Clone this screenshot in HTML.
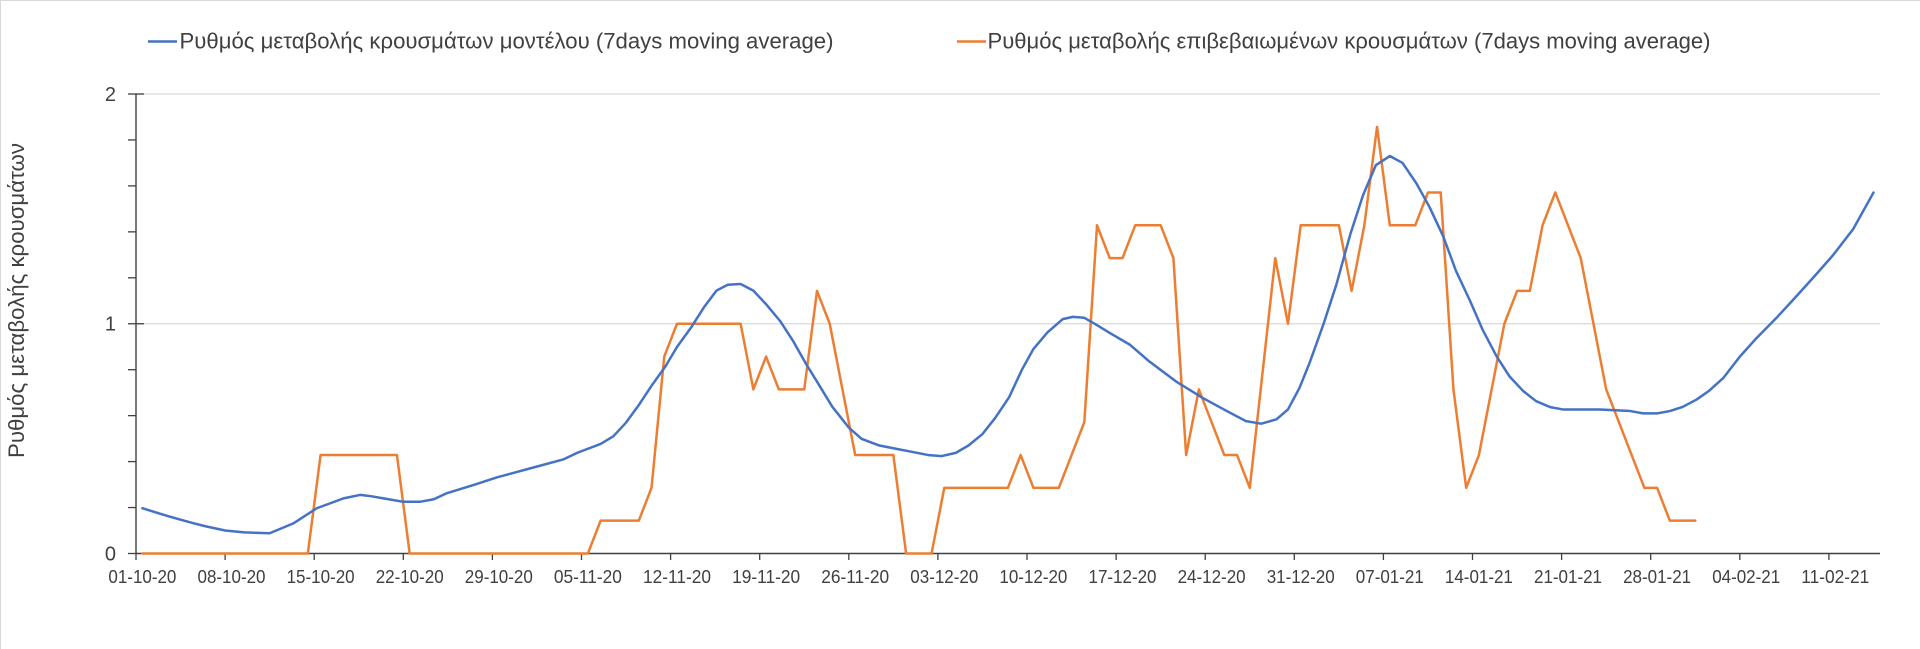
<!DOCTYPE html>
<html>
<head>
<meta charset="utf-8">
<style>
  html, body { margin: 0; padding: 0; background: #ffffff; }
  body { width: 1920px; height: 649px; overflow: hidden; }
  svg { display: block; }
  text { font-family: "Liberation Sans", "DejaVu Sans", sans-serif; fill: #404040; }
</style>
</head>
<body>
<svg width="1920" height="649" viewBox="0 0 1920 649" xmlns="http://www.w3.org/2000/svg">
  <rect x="0" y="0" width="1920" height="649" fill="#ffffff"/>
  <!-- faint chart border top/left -->
  <line x1="0" y1="0.5" x2="1920" y2="0.5" stroke="#d9d9d9" stroke-width="1"/>
  <line x1="0.5" y1="0" x2="0.5" y2="649" stroke="#d9d9d9" stroke-width="1"/>

  <!-- Legend -->
  <line x1="148" y1="41.5" x2="177" y2="41.5" stroke="#4472C4" stroke-width="2.5"/>
  <text x="179.5" y="48.5" font-size="22.5" textLength="654" lengthAdjust="spacingAndGlyphs">Ρυθμός μεταβολής κρουσμάτων μοντέλου (7days moving average)</text>
  <line x1="957" y1="41.5" x2="986" y2="41.5" stroke="#ED7D31" stroke-width="2.5"/>
  <text x="987.5" y="48.5" font-size="22.5" textLength="723" lengthAdjust="spacingAndGlyphs">Ρυθμός μεταβολής επιβεβαιωμένων κρουσμάτων (7days moving average)</text>

  <!-- Y axis title -->
  <text transform="translate(24,300.5) rotate(-90)" x="0" y="0" font-size="22" text-anchor="middle" textLength="315" lengthAdjust="spacingAndGlyphs">Ρυθμός μεταβολής κρουσμάτων</text>

  <!-- Gridlines -->
  <line x1="136" y1="94" x2="1880" y2="94" stroke="#d9d9d9" stroke-width="1.2"/>
  <line x1="136" y1="323.75" x2="1880" y2="323.75" stroke="#d9d9d9" stroke-width="1.2"/>

  <!-- Y axis -->
  <line x1="136" y1="94" x2="136" y2="554" stroke="#404040" stroke-width="1.4"/>
  <g stroke="#404040" stroke-width="1.3">
    <line x1="128" y1="94" x2="144" y2="94"/>
    <line x1="128" y1="323.75" x2="144" y2="323.75"/>
    <line x1="128" y1="553.5" x2="136" y2="553.5"/>
    <line x1="128" y1="139.95" x2="136" y2="139.95"/>
    <line x1="128" y1="185.9" x2="136" y2="185.9"/>
    <line x1="128" y1="231.85" x2="136" y2="231.85"/>
    <line x1="128" y1="277.8" x2="136" y2="277.8"/>
    <line x1="128" y1="369.7" x2="136" y2="369.7"/>
    <line x1="128" y1="415.65" x2="136" y2="415.65"/>
    <line x1="128" y1="461.6" x2="136" y2="461.6"/>
    <line x1="128" y1="507.55" x2="136" y2="507.55"/>
  </g>
  <text x="116" y="101" font-size="20" text-anchor="end">2</text>
  <text x="116" y="330.5" font-size="20" text-anchor="end">1</text>
  <text x="116" y="560.5" font-size="20" text-anchor="end">0</text>

  <!-- X axis -->
  <line x1="136" y1="553.5" x2="1880" y2="553.5" stroke="#404040" stroke-width="1.4"/>
  <g stroke="#404040" stroke-width="1.3">
    <line x1="136" y1="553.5" x2="136" y2="560"/>
    <line x1="225.1" y1="553.5" x2="225.1" y2="560"/>
    <line x1="314.2" y1="553.5" x2="314.2" y2="560"/>
    <line x1="403.3" y1="553.5" x2="403.3" y2="560"/>
    <line x1="492.4" y1="553.5" x2="492.4" y2="560"/>
    <line x1="581.5" y1="553.5" x2="581.5" y2="560"/>
    <line x1="670.6" y1="553.5" x2="670.6" y2="560"/>
    <line x1="759.7" y1="553.5" x2="759.7" y2="560"/>
    <line x1="848.8" y1="553.5" x2="848.8" y2="560"/>
    <line x1="937.9" y1="553.5" x2="937.9" y2="560"/>
    <line x1="1027" y1="553.5" x2="1027" y2="560"/>
    <line x1="1116.1" y1="553.5" x2="1116.1" y2="560"/>
    <line x1="1205.2" y1="553.5" x2="1205.2" y2="560"/>
    <line x1="1294.3" y1="553.5" x2="1294.3" y2="560"/>
    <line x1="1383.4" y1="553.5" x2="1383.4" y2="560"/>
    <line x1="1472.5" y1="553.5" x2="1472.5" y2="560"/>
    <line x1="1561.6" y1="553.5" x2="1561.6" y2="560"/>
    <line x1="1650.7" y1="553.5" x2="1650.7" y2="560"/>
    <line x1="1739.8" y1="553.5" x2="1739.8" y2="560"/>
    <line x1="1828.9" y1="553.5" x2="1828.9" y2="560"/>
  </g>
  <g font-size="18" text-anchor="middle">
    <text x="142.4" y="583" textLength="68" lengthAdjust="spacingAndGlyphs">01-10-20</text>
    <text x="231.5" y="583" textLength="68" lengthAdjust="spacingAndGlyphs">08-10-20</text>
    <text x="320.6" y="583" textLength="68" lengthAdjust="spacingAndGlyphs">15-10-20</text>
    <text x="409.7" y="583" textLength="68" lengthAdjust="spacingAndGlyphs">22-10-20</text>
    <text x="498.8" y="583" textLength="68" lengthAdjust="spacingAndGlyphs">29-10-20</text>
    <text x="587.9" y="583" textLength="68" lengthAdjust="spacingAndGlyphs">05-11-20</text>
    <text x="677" y="583" textLength="68" lengthAdjust="spacingAndGlyphs">12-11-20</text>
    <text x="766.1" y="583" textLength="68" lengthAdjust="spacingAndGlyphs">19-11-20</text>
    <text x="855.2" y="583" textLength="68" lengthAdjust="spacingAndGlyphs">26-11-20</text>
    <text x="944.3" y="583" textLength="68" lengthAdjust="spacingAndGlyphs">03-12-20</text>
    <text x="1033.4" y="583" textLength="68" lengthAdjust="spacingAndGlyphs">10-12-20</text>
    <text x="1122.5" y="583" textLength="68" lengthAdjust="spacingAndGlyphs">17-12-20</text>
    <text x="1211.6" y="583" textLength="68" lengthAdjust="spacingAndGlyphs">24-12-20</text>
    <text x="1300.7" y="583" textLength="68" lengthAdjust="spacingAndGlyphs">31-12-20</text>
    <text x="1389.8" y="583" textLength="68" lengthAdjust="spacingAndGlyphs">07-01-21</text>
    <text x="1478.9" y="583" textLength="68" lengthAdjust="spacingAndGlyphs">14-01-21</text>
    <text x="1568" y="583" textLength="68" lengthAdjust="spacingAndGlyphs">21-01-21</text>
    <text x="1657.1" y="583" textLength="68" lengthAdjust="spacingAndGlyphs">28-01-21</text>
    <text x="1746.2" y="583" textLength="68" lengthAdjust="spacingAndGlyphs">04-02-21</text>
    <text x="1835.3" y="583" textLength="68" lengthAdjust="spacingAndGlyphs">11-02-21</text>
  </g>

  <!-- Orange series (values in sevenths) -->
  <g transform="translate(142.36,553.5) scale(12.729,-32.821)">
    <polyline fill="none" stroke="#ED7D31" stroke-width="2.5" vector-effect="non-scaling-stroke" stroke-linejoin="round" stroke-linecap="round"
      points="0,0 13,0 14,3 20,3 21,0 35,0 36,1 39,1 40,2 41,6 42,7 47,7 48,5 49,6 50,5 52,5 53,8 54,7 55,5 56,3 59,3 60,0 62,0 63,2 68,2 69,3 70,2 72,2 73,3 74,4 75,10 76,9 77,9 78,10 80,10 81,9 82,3 83,5 84,4 85,3 86,3 87,2 88,5.5 89,9 90,7 91,10 94,10 95,8 96,10 97,13 98,10 100,10 101,11 102,11 103,5 104,2 105,3 106,5 107,7 108,8 109,8 110,10 111,11 112,10 113,9 114,7 115,5 116,4 117,3 118,2 119,2 120,1 122,1"/>
  </g>

  <!-- Blue series -->
  <g transform="translate(142.36,553.5) scale(12.729,-229.75)">
    <polyline fill="none" stroke="#4472C4" stroke-width="2.5" vector-effect="non-scaling-stroke" stroke-linejoin="round" stroke-linecap="round"
      points="0,0.197 1,0.18 2,0.163 3,0.147 4,0.132 5,0.118 6.5,0.1 8,0.092 10,0.088 11.86,0.131 13.7,0.197 15.8,0.24 17.1,0.255 17.9,0.25 20.5,0.225 21.8,0.225 22.9,0.236 23.9,0.262 26,0.298 27.9,0.332 30.5,0.371 33.1,0.41 34.2,0.439 36,0.477 37,0.51 38,0.57 39,0.646 40,0.73 41.1,0.815 42,0.899 43.1,0.983 44.1,1.07 45.1,1.144 46,1.17 47,1.173 48,1.144 49,1.085 50.1,1.012 51.1,0.927 52.1,0.829 53.2,0.73 54.2,0.639 55.5,0.548 56.5,0.499 57.9,0.47 59.2,0.456 60.5,0.442 61.8,0.428 62.8,0.424 63.9,0.438 64.9,0.47 66,0.52 67,0.59 68.1,0.681 69.1,0.8 70,0.89 71.1,0.962 72.3,1.02 73.1,1.03 74,1.026 74.9,0.997 76,0.96 77.6,0.908 79.1,0.836 81.2,0.749 83.3,0.677 85.2,0.62 86.7,0.576 87.9,0.565 89.1,0.584 90,0.627 90.9,0.72 91.7,0.83 92.8,1.0 93.8,1.17 94.9,1.39 95.9,1.56 96.9,1.69 98,1.73 99,1.7 100.1,1.61 101.1,1.51 102.2,1.38 103.2,1.23 104.3,1.1 105.3,0.973 106.4,0.857 107.4,0.771 108.5,0.706 109.5,0.663 110.6,0.637 111.6,0.627 114.5,0.627 116.9,0.62 117.9,0.61 119,0.61 120,0.62 121,0.638 122.1,0.67 123.1,0.709 124.2,0.764 125.5,0.857 126.8,0.937 128.4,1.027 129.7,1.105 131.3,1.203 132.8,1.297 134.4,1.412 136,1.571"/>
  </g>
</svg>
</body>
</html>
